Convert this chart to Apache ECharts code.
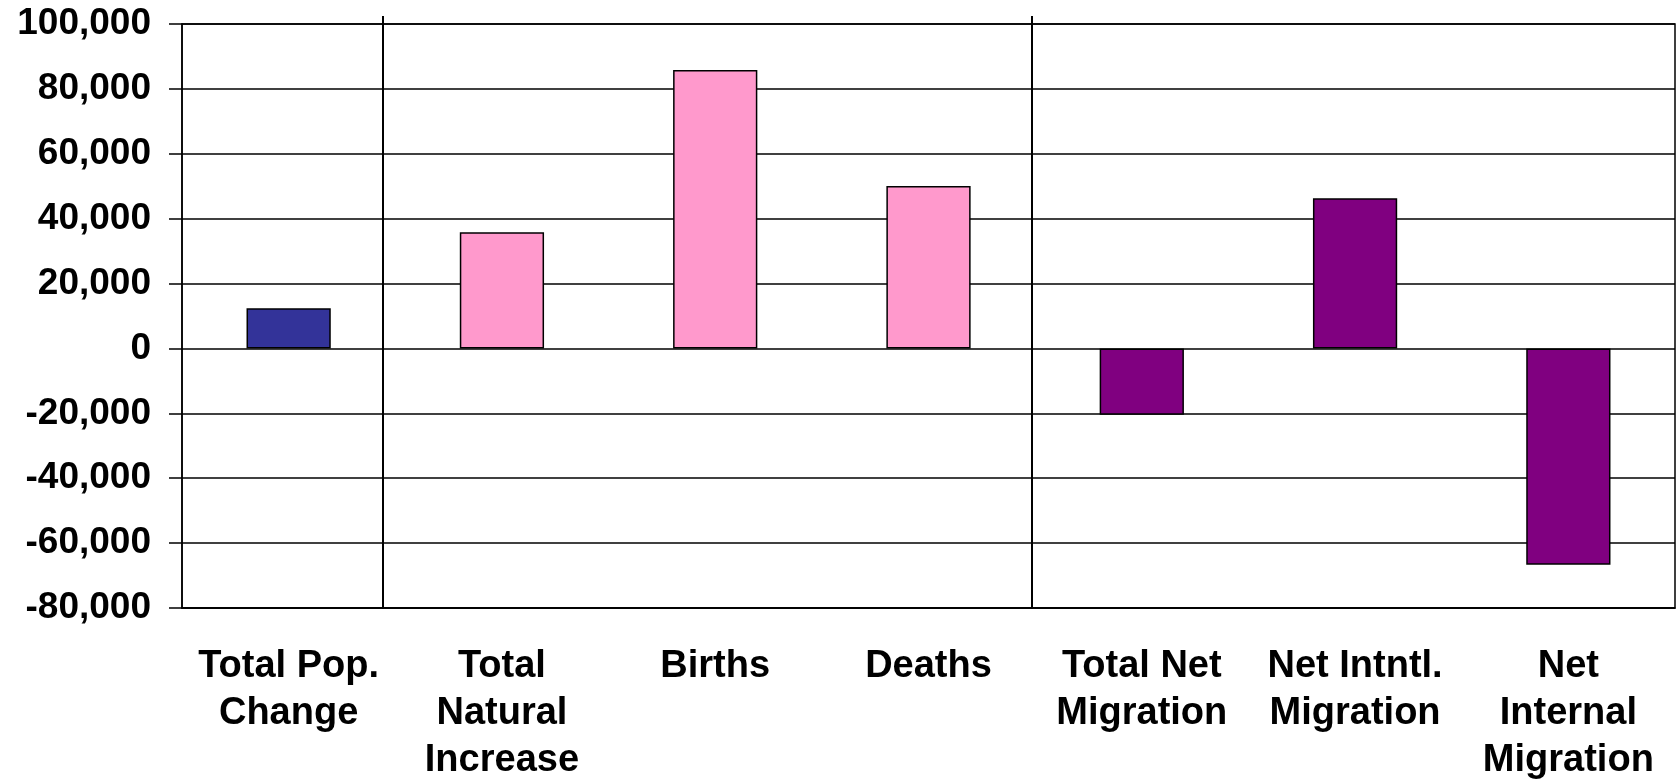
<!DOCTYPE html>
<html>
<head>
<meta charset="utf-8">
<script src="https://cdn.jsdelivr.net/npm/echarts@6/dist/echarts.min.js"></script>
<style>
  html, body { margin: 0; padding: 0; background: #ffffff; }
  #chart { width: 1677px; height: 780px; }
</style>
</head>
<body>
<div id="chart"></div>
<script>
// Components of population change
const categories = [
  'Total Pop.\nChange',
  'Total\nNatural\nIncrease',
  'Births',
  'Deaths',
  'Total Net\nMigration',
  'Net Intntl.\nMigration',
  'Net\nInternal\nMigration'
];
const values = [12400, 35800, 85800, 50100, -20400, 46300, -66700];
// fill per category: overall change, natural components, migration components
const barColors = ['#333399', '#FF99CC', '#FF99CC', '#FF99CC', '#800080', '#800080', '#800080'];

const yMin = -80000;
const yMax = 100000;
const yStep = 20000;

const chart = echarts.init(document.getElementById('chart'), null, { renderer: 'canvas' });

const FONT = '"Liberation Sans", Arial, sans-serif';

chart.setOption({
  backgroundColor: '#ffffff',
  animation: false,
  grid: {
    left: 182, right: 2, top: 24, bottom: 172,
    outerBoundsMode: 'none', containLabel: false,
    show: true, borderColor: '#000000', borderWidth: 1.5, backgroundColor: 'transparent'
  },
  xAxis: {
    type: 'category',
    data: categories,
    axisLine: { onZero: false, lineStyle: { color: '#000000', width: 1.5 } },
    axisTick: { show: false },
    axisLabel: {
      color: '#000000', fontFamily: FONT, fontWeight: 'bold', fontSize: 38,
      lineHeight: 47, margin: 35, interval: 0
    },
    splitLine: { show: false }
  },
  yAxis: {
    type: 'value',
    min: yMin, max: yMax, interval: yStep,
    axisLine: { show: true, lineStyle: { color: '#000000', width: 1.5 } },
    axisTick: { show: true, inside: false, length: 13, lineStyle: { color: '#000000', width: 1.5 } },
    axisLabel: {
      color: '#000000', fontFamily: FONT, fontWeight: 'bold', fontSize: 37, margin: 31,
      formatter: v => v.toLocaleString('en-US')
    },
    splitLine: { show: true, lineStyle: { color: '#000000', width: 1.5 } }
  },
  series: [{
    type: 'bar',
    barWidth: '39.5%',
    data: values.map((v, i) => ({
      value: v,
      itemStyle: { color: barColors[i], borderColor: '#000000', borderWidth: 1.5 }
    }))
  }],
  graphic: [
    // divider lines between the three groups of components
    { type: 'line', z: 100, shape: { x1: 383, y1: 16, x2: 383, y2: 609 },
      style: { stroke: '#000000', lineWidth: 2 } },
    { type: 'line', z: 100, shape: { x1: 1032, y1: 16, x2: 1032, y2: 609 },
      style: { stroke: '#000000', lineWidth: 2 } }
  ]
});
</script>
</body>
</html>
